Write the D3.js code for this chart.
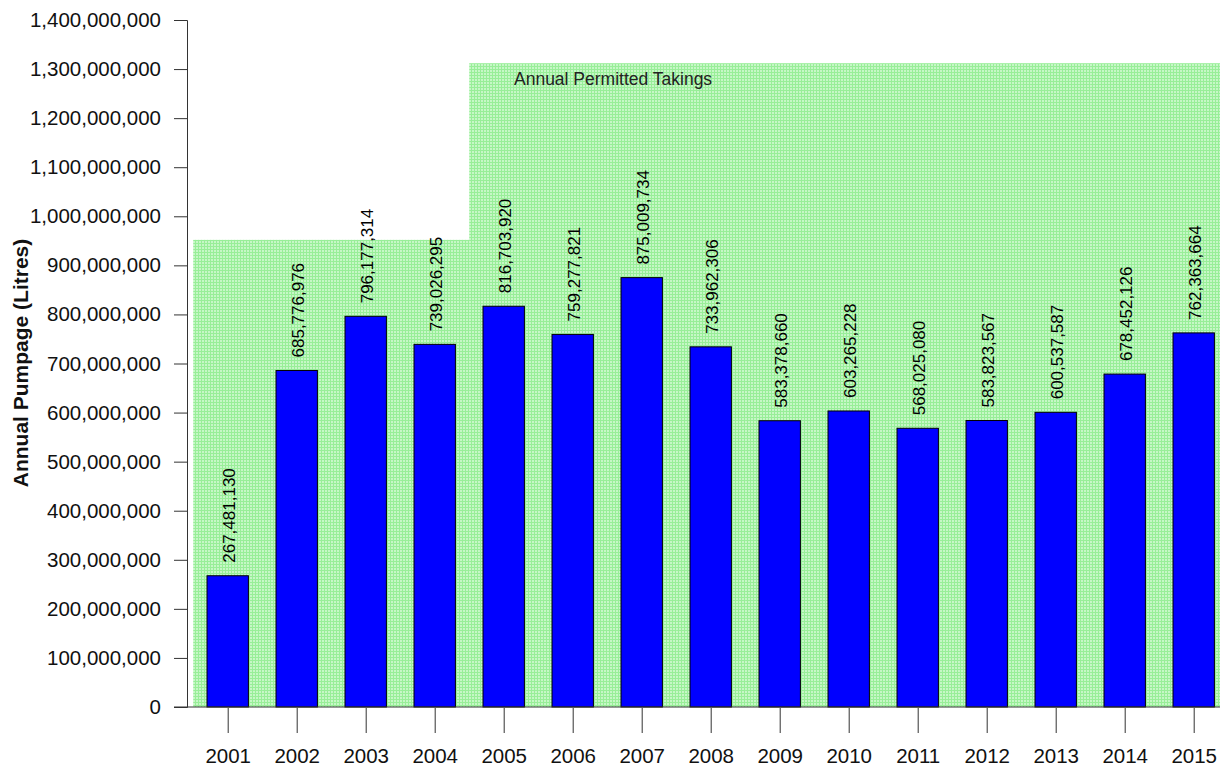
<!DOCTYPE html>
<html>
<head>
<meta charset="utf-8">
<script src="https://cdn.jsdelivr.net/npm/d3@7"></script>
<style>
  body { margin: 0; background: #fff; }
  svg { display: block; font-family: "Liberation Sans", Arial, sans-serif; }
</style>
</head>
<body>
<div id="chart"></div>
<script>
// annual pumpage per year (litres)
const years = [2001, 2002, 2003, 2004, 2005, 2006, 2007, 2008, 2009, 2010, 2011, 2012, 2013, 2014, 2015];
const pumpage = [267481130, 685776976, 796177314, 739026295, 816703920, 759277821, 875009734,
                 733962306, 583378660, 603265228, 568025080, 583823567, 600537587, 678452126, 762363664];
// permitted takings, step levels
const permitYears = [2001, 2002, 2003, 2004, 2005, 2006, 2007, 2008, 2009, 2010, 2011, 2012, 2013, 2014, 2015];
const permitted = [952000000, 952000000, 952000000, 952000000, 1312000000, 1312000000, 1312000000, 1312000000,
                   1312000000, 1312000000, 1312000000, 1312000000, 1312000000, 1312000000, 1312000000];
const yTicks = d3.range(0, 1400000001, 100000000);

const width = 1220, height = 767;
const fmt = d3.format(",");

const svg = d3.select("#chart").append("svg")
    .attr("width", width)
    .attr("height", height);

const x = d3.scaleLinear().domain([2000.5, 2015.5]).range([193.2, 1228.2]);
const y = d3.scaleLinear().domain([0, 1400000000]).range([707, 20]);

// green textured pattern
const defs = svg.append("defs");
const pat = defs.append("pattern")
    .attr("id", "grass")
    .attr("patternUnits", "userSpaceOnUse")
    .attr("width", 3).attr("height", 3);
pat.append("rect").attr("width", 3).attr("height", 3).attr("fill", "#c6f7c6");
pat.append("rect").attr("width", 3).attr("height", 1).attr("fill", "#98ee98");
pat.append("rect").attr("width", 1).attr("height", 3).attr("fill", "#98ee98");

// permitted takings area
svg.append("g").selectAll("rect")
    .data(permitYears)
    .join("rect")
    .attr("x", d => x(d - 0.5))
    .attr("width", d => x(d + 0.5) - x(d - 0.5) + 0.5)
    .attr("y", (d, i) => y(permitted[i]))
    .attr("height", (d, i) => y(0) - y(permitted[i]))
    .attr("fill", "url(#grass)");

svg.append("text")
    .attr("x", 514)
    .attr("y", 85)
    .attr("font-size", 17.5)
    .attr("fill", "#222")
    .text("Annual Permitted Takings");

// bars
svg.append("g").selectAll("rect")
    .data(years)
    .join("rect")
    .attr("x", d => x(d - 0.3))
    .attr("width", d => x(d + 0.3) - x(d - 0.3))
    .attr("y", (d, i) => y(pumpage[i]))
    .attr("height", (d, i) => y(0) - y(pumpage[i]))
    .attr("fill", "#0000ff")
    .attr("stroke", "#000")
    .attr("stroke-width", 1);

// value labels
svg.append("g").selectAll("text")
    .data(years)
    .join("text")
    .attr("transform", (d, i) => `translate(${x(d)},${y(pumpage[i]) - 13}) rotate(-90)`)
    .attr("dy", "0.4em")
    .attr("font-size", 17)
    .attr("fill", "#000")
    .text((d, i) => fmt(pumpage[i]));

// baseline
svg.append("line")
    .attr("x1", 174).attr("x2", width)
    .attr("y1", y(0)).attr("y2", y(0))
    .attr("stroke", "#333");

// y axis
const yAxis = svg.append("g")
    .attr("transform", "translate(187,0)")
    .call(d3.axisLeft(y).tickValues(yTicks).tickFormat(fmt).tickSize(13).tickPadding(13));
yAxis.select(".domain").attr("stroke", "#333");
yAxis.selectAll(".tick line").attr("stroke", "#333");
yAxis.selectAll("text").attr("font-size", 20.5).attr("fill", "#111")
    .attr("font-family", "Liberation Sans, Arial, sans-serif");

// x axis ticks
const xAxis = svg.append("g")
    .attr("transform", "translate(0,708)")
    .call(d3.axisBottom(x).tickValues(years).tickFormat(d3.format("d")).tickSize(25).tickPadding(15));
xAxis.select(".domain").remove();
xAxis.selectAll(".tick line").attr("stroke", "#333");
xAxis.selectAll("text").attr("font-size", 20.5).attr("fill", "#111")
    .attr("font-family", "Liberation Sans, Arial, sans-serif");

// y title
svg.append("text")
    .attr("transform", "translate(28,363) rotate(-90)")
    .attr("text-anchor", "middle")
    .attr("font-size", 21)
    .attr("font-weight", "bold")
    .attr("fill", "#111")
    .text("Annual Pumpage (Litres)");
</script>
</body>
</html>
